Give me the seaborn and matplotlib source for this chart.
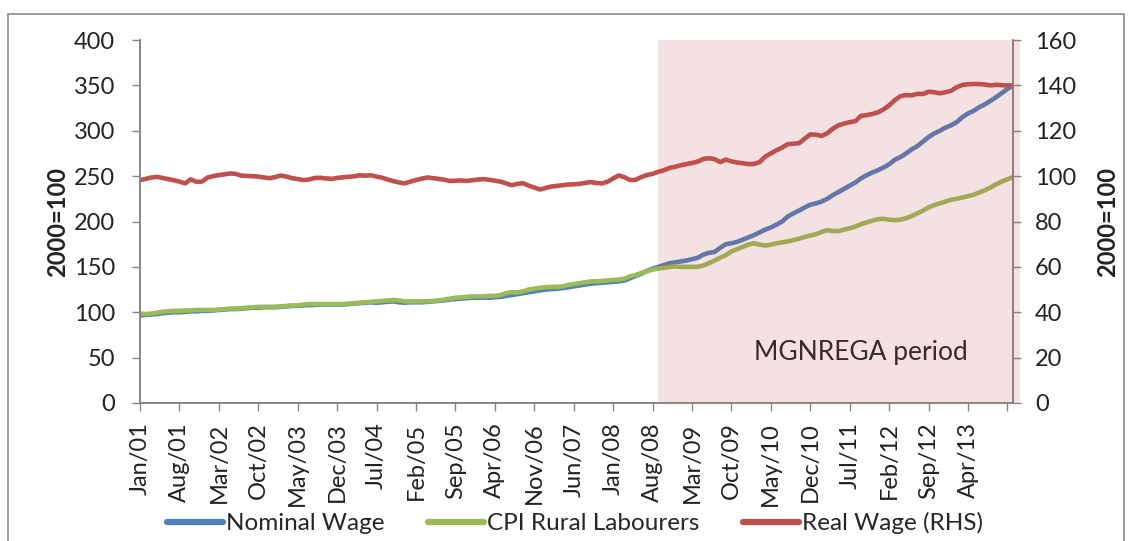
import numpy as np
import pandas as pd
import seaborn as sns
import matplotlib.pyplot as plt
from matplotlib.patches import Rectangle
from matplotlib.lines import Line2D

# monthly index values, Jan 2001 - Dec 2013 (2000=100), one row per year
nominal_wage = [
    96.5, 97, 97.5, 98, 99, 99.5, 100, 100, 100.5, 101, 101, 101.5,
    101.5, 102, 102.5, 103, 103.5, 103.5, 104, 104.5, 105, 105, 105.5, 105.5,
    105.5, 106, 106.5, 107, 107, 107.5, 108, 108, 108.5, 108.5, 108.5, 108.5,
    108.5, 109, 109.5, 110, 110.5, 111, 110.5, 111, 111.5, 112, 111, 110.5,
    111, 111, 111, 111.5, 112, 112.5, 113, 114, 114.5, 115, 115.5, 116,
    116, 116, 116, 116.5, 117, 118, 119, 120, 121, 122, 123, 124,
    125, 125.5, 126, 126.5, 127.5, 128.5, 129.5, 130.5, 131.5, 132, 132.5, 133,
    133.5, 134, 135, 137.5, 140, 142.5, 145.5, 148, 150, 152, 154, 155,
    156, 157, 158.5, 160, 163.5, 165.5, 166.5, 171, 175, 176, 177.5, 180,
    182.5, 185, 188, 191, 193.5, 196.5, 200, 205.5, 209, 212, 215.5, 218.5,
    220, 222, 225, 229, 232.5, 236, 239.5, 243, 247.5, 251, 254, 256.5,
    259.5, 263, 268, 271, 275, 279.5, 283, 288, 293, 297, 300, 303.5,
    306, 309.5, 315, 319, 322, 326, 329, 333, 337, 341.5, 346, 350,
]
cpi_rural = [
    98.5, 98, 98.5, 99.5, 100.5, 101, 101.5, 101.5, 102, 102, 102.5, 102.5,
    102.5, 102.5, 103, 103.5, 104, 104, 104.5, 105, 105.5, 106, 106, 106,
    106, 106.5, 107, 107.5, 107.5, 108.5, 109, 109, 109, 109, 109, 109,
    109, 109.5, 110, 110.5, 111, 111.5, 112, 112.5, 113, 113.5, 113, 112,
    112, 112, 112, 112, 112.5, 113, 114, 115, 116, 116.5, 117, 117.5,
    117.5, 117.5, 118, 118, 119, 121, 122, 122, 123, 125, 126, 127,
    127.5, 128, 128, 128.5, 130, 131, 132, 133, 134, 134, 134.5, 135,
    135.5, 136, 137, 139.5, 141, 143.5, 145, 147, 148, 149, 150, 150.5,
    150, 150, 150, 150, 151.5, 154, 157, 160, 163, 167, 169.5, 172,
    174.5, 176, 174.5, 173.5, 174.5, 176, 177, 178, 179.5, 181, 183, 184.5,
    186, 188.5, 190.5, 189.5, 189.5, 191, 192.5, 194.5, 197, 199, 201, 202.5,
    203, 202, 201.5, 202, 203.5, 206, 209, 212, 215.5, 218, 220, 222,
    224, 225, 226.5, 228, 229.5, 232, 234.5, 237.5, 241, 244, 246.5, 249,
]
real_wage = [
    98.2, 98.8, 99.4, 99.7, 99.2, 98.7, 98.2, 97.6, 96.8, 98.6, 97.5, 97.6,
    99.4, 100.0, 100.5, 100.8, 101.2, 101.0, 100.2, 100.1, 100.0, 99.8, 99.4, 99.1,
    99.6, 100.3, 99.8, 99.1, 98.7, 98.3, 98.5, 99.2, 99.3, 99.0, 98.8, 99.2,
    99.5, 99.7, 99.9, 100.4, 100.2, 100.4, 99.8, 99.3, 98.5, 97.8, 97.2, 96.8,
    97.6, 98.3, 98.9, 99.4, 99.1, 98.8, 98.4, 97.9, 98.0, 98.1, 97.9, 98.2,
    98.5, 98.7, 98.4, 98.0, 97.6, 96.8, 96.0, 96.6, 96.9, 95.8, 95.0, 94.1,
    94.8, 95.4, 95.7, 96.0, 96.3, 96.4, 96.6, 97.0, 97.4, 97.0, 96.8, 97.5,
    99.0, 100.3, 99.5, 98.3, 98.4, 99.6, 100.5, 101.0, 101.9, 102.6, 103.6, 104.1,
    104.8, 105.3, 105.8, 106.4, 107.6, 107.9, 107.5, 106.2, 107.3, 106.5, 106.0, 105.7,
    105.3, 105.4, 106.2, 108.6, 110.0, 111.4, 112.6, 114.1, 114.3, 114.5, 116.5, 118.4,
    118.3, 117.7, 118.9, 120.9, 122.4, 123.2, 123.8, 124.2, 126.6, 126.9, 127.4, 128.1,
    129.4, 131.2, 133.5, 135.2, 135.8, 135.6, 136.3, 136.2, 137.2, 137.0, 136.5, 137.0,
    137.6, 139.2, 140.2, 140.5, 140.6, 140.6, 140.4, 140.0, 140.3, 140.1, 140.0, 140.0,
]

months = pd.date_range("2001-01-01", periods=len(nominal_wage), freq="MS")
tick_step = 7
mgnrega_start = pd.Timestamp("2008-09-01")

df = pd.DataFrame({
    "t": np.arange(len(months)),
    "Nominal Wage": nominal_wage,
    "CPI Rural Labourers": cpi_rural,
    "Real Wage (RHS)": real_wage,
})

sns.set_style("white")
plt.rcParams["font.family"] = ["Lato", "DejaVu Sans"]

blue, green, red = "#4F81BD", "#9BBB59", "#C0504D"
grey = "#868686"
txt = "#222222"

fig = plt.figure(figsize=(11.32, 5.41), dpi=100)
ax = fig.add_axes([0.1237, 0.2551, 0.7712, 0.6709])
ax2 = ax.twinx()

sns.lineplot(data=df, x="t", y="Nominal Wage", ax=ax, color=blue, linewidth=3.3, legend=False)
sns.lineplot(data=df, x="t", y="CPI Rural Labourers", ax=ax, color=green, linewidth=3.3, legend=False)
sns.lineplot(data=df, x="t", y="Real Wage (RHS)", ax=ax2, color=red, linewidth=3.3, legend=False)

# shaded MGNREGA period, drawn on top so the lines show through muted
start = months.get_loc(mgnrega_start)
ax2.axvspan(start, len(months) + 0.3, color=red, alpha=0.17, lw=0, zorder=5, clip_on=False)
ax.text(start + 17, 56, "MGNREGA period", fontsize=19, va="center", ha="left", color=txt)

ax.set_xlim(0, len(months) - 1)
ax.set_ylim(0, 400)
ax2.set_ylim(0, 160)
ax.set_yticks(range(0, 401, 50))
ax2.set_yticks(range(0, 161, 20))

ticks = list(range(0, len(months), tick_step))
labels = [months[i].strftime("%b/%y") for i in ticks]
labels[-1] = ""
ax.set_xticks(ticks)
ax.set_xticklabels(labels, rotation=90)

ax.set_xlabel("")
ax.set_ylabel("2000=100", fontsize=17, fontweight="bold", labelpad=3, color=txt)
ax2.set_ylabel("2000=100", fontsize=17, fontweight="bold", rotation=90, labelpad=14, color=txt)

for a in (ax, ax2):
    a.tick_params(axis="both", labelsize=17, direction="out", length=6, width=1,
                  color=grey, labelcolor=txt)
    for side in ("left", "right", "bottom"):
        a.spines[side].set_color(grey)
        a.spines[side].set_linewidth(1.2)
    a.spines["top"].set_visible(False)
ax.tick_params(axis="x", bottom=True, pad=8)
ax.tick_params(axis="y", left=True, pad=12)
ax2.tick_params(axis="y", right=True, pad=10)

handles = [Line2D([], [], color=c, lw=4.5) for c in (blue, green, red)]
fig.legend(handles, ["Nominal Wage", "CPI Rural Labourers", "Real Wage (RHS)"],
           loc="center", bbox_to_anchor=(0.508, 0.033), ncol=3, frameon=False,
           fontsize=17.5, handlelength=2.3, handletextpad=0.12, columnspacing=1.8)

fig.patches.append(Rectangle((8 / 1132, -0.05), 1 - 16 / 1132, 1.05 - 14 / 541,
                             transform=fig.transFigure, fill=False, ec="#8c8c8c", lw=1.2))

fig.savefig("out.png", dpi=100)
